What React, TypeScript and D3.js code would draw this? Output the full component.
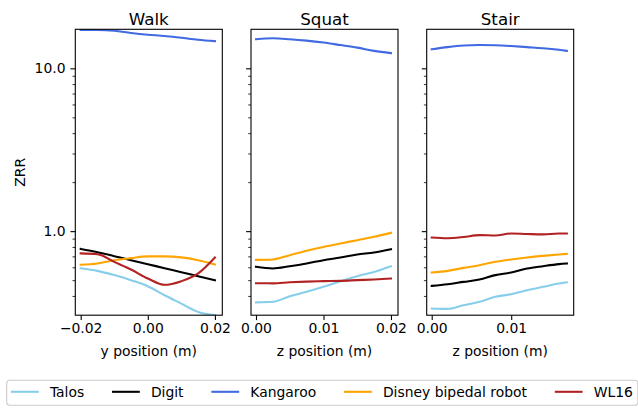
import React, { useRef, useEffect } from "react";
import * as d3 from "d3";

const robots = ["Talos", "Digit", "Kangaroo", "Disney bipedal robot", "WL16"];
const colors = ["#87ceeb", "#000000", "#4169e1", "#ffa500", "#b22222"];

// Walk (y position, m)
const walkX = [-0.02, -0.015, -0.01, -0.005, 0, 0.005, 0.01, 0.015, 0.02];
const walkTalos = [0.592, 0.57, 0.537, 0.5, 0.459, 0.404, 0.359, 0.319, 0.305];
const walkDigit = [0.778, 0.743, 0.702, 0.663, 0.627, 0.592, 0.56, 0.529, 0.5];
const walkKangaroo = [17.2, 17.2, 17.0, 16.5, 16.1, 15.8, 15.4, 15.0, 14.7];
const walkDisney = [0.621, 0.633, 0.663, 0.683, 0.7, 0.7, 0.69, 0.663, 0.625];
const walkWL16 = [0.73, 0.722, 0.648, 0.581, 0.512, 0.468, 0.493, 0.55, 0.689];

// Squat (z position, m)
const squatX = [0, 0.0025, 0.005, 0.0075, 0.01, 0.0125, 0.015, 0.0175, 0.02];
const squatTalos = [0.365, 0.368, 0.398, 0.424, 0.455, 0.493, 0.529, 0.562, 0.609];
const squatDigit = [0.604, 0.59, 0.609, 0.633, 0.663, 0.689, 0.719, 0.74, 0.775];
const squatKangaroo = [15.1, 15.3, 15.1, 14.8, 14.4, 13.9, 13.4, 12.8, 12.4];
const squatDisney = [0.666, 0.67, 0.712, 0.757, 0.8, 0.84, 0.88, 0.923, 0.976];
const squatWL16 = [0.479, 0.478, 0.485, 0.49, 0.493, 0.495, 0.5, 0.505, 0.512];

// Stair (z position, m)
const stairX = [0, 0.002, 0.004, 0.006, 0.008, 0.01, 0.012, 0.014, 0.016, 0.017];
const stairTalos = [0.335, 0.333, 0.351, 0.368, 0.395, 0.41, 0.434, 0.455, 0.477, 0.485];
const stairDigit = [0.461, 0.472, 0.488, 0.504, 0.537, 0.557, 0.589, 0.609, 0.627, 0.633];
const stairKangaroo = [13.1, 13.5, 13.8, 13.9, 13.85, 13.7, 13.5, 13.3, 13.0, 12.8];
const stairDisney = [0.557, 0.57, 0.595, 0.618, 0.648, 0.67, 0.689, 0.705, 0.719, 0.725];
const stairWL16 = [0.914, 0.905, 0.92, 0.945, 0.94, 0.967, 0.96, 0.955, 0.967, 0.967];

const yMajor = [1, 10];
const yMinor = [0.4, 0.5, 0.6, 0.7, 0.8, 0.9, 2, 3, 4, 5, 6, 7, 8, 9];

const panels = [
  {
    title: "Walk",
    xLabel: "y position (m)",
    x: walkX,
    series: [walkTalos, walkDigit, walkKangaroo, walkDisney, walkWL16],
    domain: [-0.0216, 0.0222],
    ticks: [-0.02, 0, 0.02],
    left: 75.3,
  },
  {
    title: "Squat",
    xLabel: "z position (m)",
    x: squatX,
    series: [squatTalos, squatDigit, squatKangaroo, squatDisney, squatWL16],
    domain: [-0.00074, 0.02104],
    ticks: [0, 0.01, 0.02],
    left: 251,
  },
  {
    title: "Stair",
    xLabel: "z position (m)",
    x: stairX,
    series: [stairTalos, stairDigit, stairKangaroo, stairDisney, stairWL16],
    domain: [-0.00063, 0.01786],
    ticks: [0, 0.01],
    left: 426.7,
  },
];

const font = "DejaVu Sans, sans-serif";

export default function App() {
  const chartRef = useRef<SVGSVGElement>(null);

  useEffect(() => {
    const svg = d3.select(chartRef.current);
    svg.selectAll("*").remove();

    const width = 638;
    const height = 409;
    const top = 29.3;
    const bottom = 315.2;
    const panelWidth = 147;

    svg.attr("width", width).attr("height", height);

    const yScale = d3.scaleLog().domain([0.3046, 17.37]).range([bottom, top]);
    const fmtX = (d: number) => d3.format(".2f")(d).replace("-", "\u2212");

    panels.forEach((p, pi) => {
      const xScale = d3
        .scaleLinear()
        .domain(p.domain)
        .range([p.left, p.left + panelWidth]);

      const g = svg.append("g");
      const clipId = `clip-${pi}`;
      g.append("clipPath")
        .attr("id", clipId)
        .append("rect")
        .attr("x", p.left)
        .attr("y", top)
        .attr("width", panelWidth)
        .attr("height", bottom - top);

      const line = d3
        .line<number>()
        .x((_, i) => xScale(p.x[i]))
        .y((d) => yScale(d))
        .curve(d3.curveMonotoneX);

      p.series.forEach((s, si) => {
        g.append("path")
          .datum(s)
          .attr("clip-path", `url(#${clipId})`)
          .attr("d", line)
          .attr("fill", "none")
          .attr("stroke", colors[si])
          .attr("stroke-width", 2.08)
          .attr("stroke-linecap", "square");
      });

      // frame
      g.append("rect")
        .attr("x", p.left)
        .attr("y", top)
        .attr("width", panelWidth)
        .attr("height", bottom - top)
        .attr("fill", "none")
        .attr("stroke", "#000")
        .attr("stroke-width", 1.1);

      // x axis
      const xa = g
        .append("g")
        .attr("transform", `translate(0,${bottom})`)
        .call(
          d3
            .axisBottom(xScale)
            .tickValues(p.ticks)
            .tickFormat((d) => fmtX(d as number))
            .tickSize(4.9)
            .tickPadding(3.5)
        );
      xa.select(".domain").remove();
      xa.selectAll("line").attr("stroke-width", 1.1);
      xa.selectAll("text")
        .attr("font-family", font)
        .attr("font-size", 13.9)
        .attr("fill", "#000");

      // y axis major
      const ya = g
        .append("g")
        .attr("transform", `translate(${p.left},0)`)
        .call(
          d3
            .axisLeft(yScale)
            .tickValues(yMajor)
            .tickFormat((d) => (pi === 0 ? d3.format(".1f")(d as number) : ""))
            .tickSize(4.9)
            .tickPadding(4.9)
        );
      ya.select(".domain").remove();
      ya.selectAll("line").attr("stroke-width", 1.1);
      ya.selectAll("text")
        .attr("font-family", font)
        .attr("font-size", 13.9)
        .attr("fill", "#000");

      // y axis minor
      const ym = g
        .append("g")
        .attr("transform", `translate(${p.left},0)`)
        .call(
          d3
            .axisLeft(yScale)
            .tickValues(yMinor)
            .tickFormat(() => "")
            .tickSize(2.8)
        );
      ym.select(".domain").remove();
      ym.selectAll("line").attr("stroke-width", 0.8);

      // title
      g.append("text")
        .attr("x", p.left + panelWidth / 2)
        .attr("y", top - 4.6)
        .attr("text-anchor", "middle")
        .attr("font-family", font)
        .attr("font-size", 16.7)
        .text(p.title);

      // x label
      g.append("text")
        .attr("x", p.left + panelWidth / 2)
        .attr("y", 355.5)
        .attr("text-anchor", "middle")
        .attr("font-family", font)
        .attr("font-size", 13.9)
        .text(p.xLabel);
    });

    // y label
    svg
      .append("text")
      .attr("transform", `translate(25,${(top + bottom) / 2}) rotate(-90)`)
      .attr("text-anchor", "middle")
      .attr("font-family", font)
      .attr("font-size", 13.9)
      .text("ZRR");

    // legend: handle 2em, handle-text pad 0.8em, column spacing 2em
    const lg = svg.append("g");
    const box = lg
      .append("rect")
      .attr("x", 6.7)
      .attr("y", 380.3)
      .attr("height", 25)
      .attr("rx", 3)
      .attr("fill", "#fff")
      .attr("fill-opacity", 0.8)
      .attr("stroke", "#cccccc")
      .attr("stroke-width", 1.1);

    const handle = 27.8;
    const textGap = 11.1;
    const colSpacing = 27.8;
    let cx = 11;
    robots.forEach((name, i) => {
      const item = lg.append("g").attr("transform", `translate(${cx},391.8)`);
      item
        .append("line")
        .attr("x1", 0)
        .attr("x2", handle)
        .attr("y1", 0)
        .attr("y2", 0)
        .attr("stroke", colors[i])
        .attr("stroke-width", 2.08);
      const t = item
        .append("text")
        .attr("x", handle + textGap)
        .attr("dy", "0.35em")
        .attr("font-family", font)
        .attr("font-size", 13.9)
        .text(name);
      const w = (t.node() as SVGTextElement).getComputedTextLength();
      cx += handle + textGap + w + (i < robots.length - 1 ? colSpacing : 0);
    });
    box.attr("width", cx + 5 - 6.7);
  }, []);

  return (
    <div style={{ position: "absolute", left: 0, top: 0 }}>
      <svg ref={chartRef} style={{ display: "block" }}></svg>
    </div>
  );
}
